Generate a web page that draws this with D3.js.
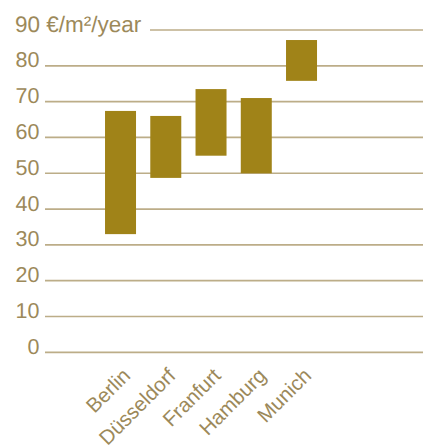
<!DOCTYPE html>
<html>
<head>
<meta charset="utf-8">
<script src="https://cdn.jsdelivr.net/npm/d3@7"></script>
<style>
html,body{margin:0;padding:0;background:#fff;}
svg{display:block;font-family:"Liberation Sans",Arial,Helvetica,sans-serif;text-rendering:geometricPrecision;}
</style>
</head>
<body>
<svg id="chart" width="423" height="445"></svg>
<script>
const cities = ["Berlin", "Düsseldorf", "Franfurt", "Hamburg", "Munich"];
const lowValues = [33, 48.7, 54.9, 50, 75.8];
const highValues = [67.4, 66, 73.5, 71, 87.2];
const yTicks = [0, 10, 20, 30, 40, 50, 60, 70, 80, 90];
const unitLabel = "€/m²/year";

const svg = d3.select("#chart");
const textColor = "#9c895a";
const gridColor = "#bcad88";
const barColor = "#a08318";

const y = d3.scaleLinear().domain([0, 90]).range([352.3, 30]);
const x = d3.scaleBand().domain(cities).range([97.9, 324.15]).paddingInner(0.315).paddingOuter(0.1575);

// gridlines
svg.append("g").selectAll("line").data(yTicks).join("line")
  .attr("x1", d => d === 90 ? 150 : 45)
  .attr("x2", 423)
  .attr("y1", d => y(d)).attr("y2", d => y(d))
  .attr("stroke", gridColor).attr("stroke-width", 1.7);

// y labels
svg.append("g").selectAll("text").data(yTicks).join("text")
  .attr("x", d => d === 90 ? 15 : 39.5)
  .attr("y", d => y(d) + 1.5)
  .attr("text-anchor", d => d === 90 ? "start" : "end")
  .attr("fill", textColor)
  .attr("font-size", d => d === 90 ? 22.5 : 21.5)
  .text(d => d === 90 ? d + " " + unitLabel : d);

// bars
svg.append("g").selectAll("rect").data(cities).join("rect")
  .attr("x", d => x(d))
  .attr("width", x.bandwidth())
  .attr("y", (d, i) => y(highValues[i]))
  .attr("height", (d, i) => y(lowValues[i]) - y(highValues[i]))
  .attr("fill", barColor);

// x labels
svg.append("g").selectAll("text").data(cities).join("text")
  .attr("transform", d => `translate(${x(d) + x.bandwidth() / 2 + 11},377) rotate(-45)`)
  .attr("text-anchor", "end")
  .attr("fill", textColor)
  .attr("font-size", 20.5)
  .text(d => d);
</script>
</body>
</html>
